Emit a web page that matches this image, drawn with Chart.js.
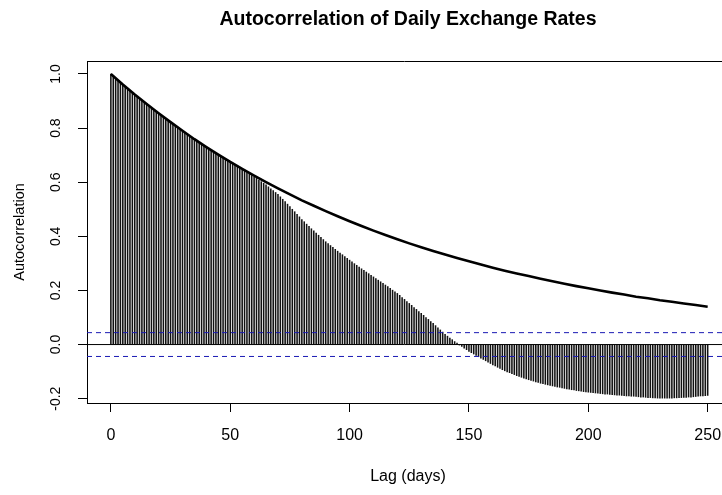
<!DOCTYPE html>
<html><head><meta charset="utf-8">
<script src="https://cdn.jsdelivr.net/npm/chart.js@4.4.1/dist/chart.umd.min.js"></script>
<style>html,body{margin:0;padding:0;background:#fff;overflow:hidden}#wrap{width:722px;height:495px;position:relative}canvas{display:block}</style>
</head><body><div id="wrap"><canvas id="c" width="722" height="495"></canvas></div>
<script>
const chartTitle = 'Autocorrelation of Daily Exchange Rates';
const xTitle = 'Lag (days)';
const yTitle = 'Autocorrelation';
const xTicks = [0, 50, 100, 150, 200, 250];
const yTicks = [-0.2, 0, 0.2, 0.4, 0.6, 0.8, 1.0];
const yTickLabels = ['-0.2', '0.0', '0.2', '0.4', '0.6', '0.8', '1.0'];

// ACF value at lag 0,1,2,...,250
const acfValues = [
 1.000,0.991,0.983,0.975,0.967,0.959,0.952,0.944,0.937,0.929,
 0.922,0.915,0.908,0.901,0.894,0.887,0.880,0.873,0.866,0.860,
 0.853,0.846,0.840,0.833,0.827,0.820,0.814,0.808,0.801,0.795,
 0.789,0.782,0.776,0.770,0.764,0.758,0.752,0.746,0.740,0.734,
 0.729,0.723,0.717,0.712,0.706,0.700,0.695,0.689,0.684,0.678,
 0.673,0.667,0.662,0.657,0.651,0.646,0.641,0.636,0.630,0.625,
 0.619,0.614,0.608,0.602,0.596,0.590,0.583,0.576,0.569,0.562,
 0.555,0.546,0.537,0.528,0.519,0.510,0.500,0.491,0.481,0.472,
 0.462,0.454,0.445,0.437,0.428,0.420,0.412,0.404,0.396,0.388,
 0.380,0.373,0.366,0.359,0.352,0.345,0.338,0.332,0.325,0.319,
 0.312,0.306,0.299,0.293,0.286,0.280,0.274,0.268,0.262,0.256,
 0.250,0.244,0.238,0.232,0.226,0.220,0.214,0.208,0.201,0.195,
 0.189,0.182,0.174,0.167,0.159,0.152,0.145,0.137,0.130,0.122,
 0.115,0.108,0.100,0.093,0.085,0.078,0.070,0.062,0.054,0.046,
 0.038,0.031,0.024,0.018,0.011,0.005,-0.001,-0.007,-0.013,-0.019,
 -0.025,-0.030,-0.035,-0.040,-0.045,-0.050,-0.055,-0.060,-0.065,-0.070,
 -0.075,-0.079,-0.084,-0.088,-0.093,-0.097,-0.101,-0.104,-0.108,-0.111,
 -0.115,-0.118,-0.121,-0.124,-0.127,-0.130,-0.133,-0.135,-0.138,-0.140,
 -0.143,-0.145,-0.147,-0.149,-0.151,-0.153,-0.155,-0.157,-0.158,-0.160,
 -0.162,-0.164,-0.165,-0.167,-0.168,-0.170,-0.171,-0.172,-0.174,-0.175,
 -0.176,-0.177,-0.178,-0.179,-0.180,-0.181,-0.182,-0.183,-0.183,-0.184,
 -0.185,-0.186,-0.187,-0.187,-0.188,-0.189,-0.190,-0.190,-0.191,-0.191,
 -0.192,-0.193,-0.194,-0.194,-0.195,-0.196,-0.196,-0.197,-0.197,-0.198,
 -0.198,-0.198,-0.198,-0.198,-0.198,-0.198,-0.197,-0.197,-0.196,-0.196,
 -0.195,-0.195,-0.194,-0.194,-0.193,-0.192,-0.191,-0.190,-0.190,-0.189,
 -0.188
];

// Smooth reference curve (thick black line), read every 5 lags
const envLags = [0,5,10,15,20,25,30,35,40,45,50,55,60,65,70,75,80,85,90,95,100,
 105,110,115,120,125,130,135,140,145,150,155,160,165,170,175,180,185,190,195,200,
 205,210,215,220,225,230,235,240,245,250];
const envValues = [1.000,0.961,0.924,0.889,0.855,0.822,0.790,0.759,0.730,0.702,0.675,
 0.649,0.624,0.600,0.577,0.555,0.533,0.513,0.493,0.474,0.456,
 0.438,0.421,0.405,0.389,0.374,0.360,0.346,0.333,0.320,0.308,
 0.296,0.284,0.273,0.263,0.253,0.243,0.234,0.225,0.216,0.208,
 0.200,0.192,0.185,0.177,0.171,0.164,0.158,0.152,0.146,0.140];

const ciUpper = 0.044;
const ciLower = -0.044;
const xMin = -10, xMax = 256, yMin = -0.216, yMax = 1.048;

const FONT = '"Liberation Sans", Arial, Helvetica, sans-serif';

const decor = {
  id: 'decor',
  afterDraw(chart) {
    const { ctx, chartArea: a, scales: { y } } = chart;
    ctx.save();
    ctx.strokeStyle = '#000';
    ctx.lineWidth = 1;
    ctx.beginPath();
    ctx.moveTo(a.left, Math.round(a.top) + 0.5);
    ctx.lineTo(a.right, Math.round(a.top) + 0.5);
    ctx.stroke();

    ctx.fillStyle = '#000';
    ctx.textAlign = 'center';
    ctx.textBaseline = 'middle';
    ctx.font = 'bold 19.5px ' + FONT;
    ctx.fillText(chartTitle, 408, 20);
    ctx.font = '16px ' + FONT;
    ctx.fillText(xTitle, 408, 477);

    ctx.font = '14px ' + FONT;
    yTicks.forEach((v, i) => {
      const py = y.getPixelForValue(v);
      ctx.save();
      ctx.translate(56, py);
      ctx.rotate(-Math.PI / 2);
      ctx.fillText(yTickLabels[i], 0, 0);
      ctx.restore();
    });
    ctx.font = '14.5px ' + FONT;
    ctx.save();
    ctx.translate(20, (a.top + a.bottom) / 2);
    ctx.rotate(-Math.PI / 2);
    ctx.fillText(yTitle, 0, 0);
    ctx.restore();
    ctx.restore();
  }
};

new Chart(document.getElementById('c'), {
  type: 'bar',
  data: {
    datasets: [
      { type: 'line', data: envLags.map((l, i) => ({ x: l, y: envValues[i] })),
        borderColor: '#000', borderWidth: 2.6, pointRadius: 0, tension: 0, order: 0 },
      { type: 'line', data: [{ x: xMin, y: ciUpper }, { x: xMax, y: ciUpper }],
        borderColor: '#1a1ab4', borderWidth: 1, borderDash: [5, 4], pointRadius: 0, order: 1 },
      { type: 'line', data: [{ x: xMin, y: ciLower }, { x: xMax, y: ciLower }],
        borderColor: '#1a1ab4', borderWidth: 1, borderDash: [5, 4], pointRadius: 0, order: 1 },
      { type: 'line', data: [{ x: xMin, y: 0 }, { x: xMax, y: 0 }],
        borderColor: '#000', borderWidth: 1, pointRadius: 0, order: 2 },
      { type: 'bar', data: acfValues.map((v, i) => ({ x: i, y: v })),
        backgroundColor: '#111', barThickness: 0.9, borderWidth: 0, order: 3 }
    ]
  },
  options: {
    responsive: false,
    animation: false,
    devicePixelRatio: 1,
    layout: { padding: { top: 61, left: 0, right: 0, bottom: 0 } },
    plugins: { legend: { display: false }, tooltip: { enabled: false }, title: { display: false } },
    scales: {
      x: {
        type: 'linear', min: xMin, max: xMax, offset: false,
        afterBuildTicks: s => { s.ticks = xTicks.map(v => ({ value: v })); },
        afterFit: s => { s.height = 92; s.paddingLeft = 0; s.paddingRight = 0; },
        grid: { drawOnChartArea: false, drawTicks: true, tickLength: 9, tickColor: '#000', offset: false },
        border: { display: true, color: '#000', width: 1 },
        ticks: { color: '#000', font: { family: FONT, size: 16 }, padding: 14, maxRotation: 0, autoSkip: false }
      },
      y: {
        type: 'linear', min: yMin, max: yMax,
        afterBuildTicks: s => { s.ticks = yTicks.map(v => ({ value: v })); },
        afterFit: s => { s.width = 87; s.paddingTop = 0; s.paddingBottom = 0; },
        grid: { drawOnChartArea: false, drawTicks: true, tickLength: 9, tickColor: '#000' },
        border: { display: true, color: '#000', width: 1 },
        ticks: { display: false }
      }
    }
  },
  plugins: [decor]
});
</script>
</body></html>
